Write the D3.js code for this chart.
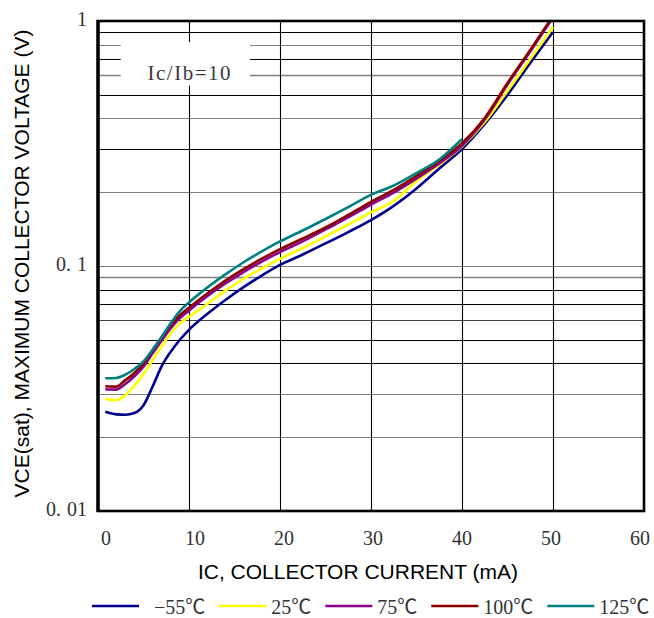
<!DOCTYPE html>
<html>
<head>
<meta charset="utf-8">
<script src="https://cdn.jsdelivr.net/npm/d3@7"></script>
<style>
  html, body { margin: 0; padding: 0; background: #fff; }
  svg { display: block; }
</style>
</head>
<body>
<svg id="chart" width="654" height="618"></svg>
<script>
// Collector current (mA) at which each curve is sampled
const current = [0.8, 2, 3, 4, 5, 6, 7, 8, 9, 10, 12, 14, 16, 18, 20, 22.5, 25, 27.5, 30, 32.5, 35, 37.5, 40, 42.5, 45, 47.5, 50];

// VCE(sat) in volts, one array per ambient temperature
const vceMinus55 = [0.0254, 0.0248, 0.0247, 0.0251, 0.0270, 0.0322, 0.0390, 0.0447, 0.0500, 0.0549, 0.0637, 0.0727, 0.0820, 0.0914, 0.1010, 0.1114, 0.1236, 0.1376, 0.1540, 0.1760, 0.2072, 0.2500, 0.3003, 0.380, 0.499, 0.674, 0.902];
const vce25 = [0.0287, 0.0283, 0.0297, 0.0325, 0.0362, 0.0413, 0.0470, 0.0530, 0.0583, 0.0620, 0.0700, 0.0793, 0.0887, 0.0978, 0.1070, 0.1184, 0.1320, 0.1477, 0.1656, 0.1843, 0.2223, 0.2597, 0.3074, 0.387, 0.518, 0.700, 0.945];
const vce75 = [0.0314, 0.0313, 0.0330, 0.0355, 0.0388, 0.0440, 0.0497, 0.0558, 0.0613, 0.0658, 0.0752, 0.0848, 0.0945, 0.1043, 0.1140, 0.1260, 0.1410, 0.1578, 0.1782, 0.1995, 0.2276, 0.2621, 0.3094, 0.396, 0.551, 0.751, 1.033];
const vce100 = [0.0323, 0.0322, 0.0342, 0.0366, 0.0400, 0.0454, 0.0512, 0.0573, 0.0630, 0.0676, 0.0772, 0.0872, 0.0971, 0.1071, 0.1172, 0.1295, 0.1436, 0.1615, 0.1825, 0.2043, 0.2331, 0.2683, 0.3168, 0.402, 0.558, 0.762, 1.048];
const vce125 = [0.0348, 0.0349, 0.0360, 0.0380, 0.0408, 0.0455, 0.0514, 0.0585, 0.0655, 0.0710, 0.0816, 0.0924, 0.1036, 0.1147, 0.1260, 0.1396, 0.1555, 0.1740, 0.1951, 0.2131, 0.2396, 0.2721, 0.3300];

const seriesNames = ["−55℃", "25℃", "75℃", "100℃", "125℃"];
const seriesValues = [vceMinus55, vce25, vce75, vce100, vce125];

// Axis ticks and labels
const xTicks = [0, 10, 20, 30, 40, 50, 60];
const yTicks = [0.01, 0.1, 1];
const yTickLabels = ["0.01", "0.1", "1"];
const yMinorGrid = [0.02, 0.03, 0.04, 0.05, 0.06, 0.07, 0.08, 0.09, 0.1, 0.2, 0.3, 0.4, 0.5, 0.6, 0.7, 0.8, 0.9];

const xTitle = "IC, COLLECTOR CURRENT (mA)";
const yTitle = "VCE(sat), MAXIMUM COLLECTOR VOLTAGE (V)";
const noteText = "Ic/Ib=10";

// ---- layout & styles ----
const colors = ["#00008b", "#ffff00", "#8b008b", "#8b0000", "#008080"];
const plot = { left: 98, top: 21, right: 644, bottom: 511 };
const serif = "'Liberation Serif', 'Noto Sans CJK SC', serif";
const sans = "'Liberation Sans', Arial, sans-serif";
const grayGrid = new Set([0.8, 0.6, 0.4, 0.2, 0.1, 0.09, 0.03, 0.02]);

const svg = d3.select("#chart");

const x = d3.scaleLinear().domain([0, 60]).range([plot.left, plot.right]);
const y = d3.scaleLog().domain([0.01, 1]).range([plot.bottom, plot.top]);
// tick labels sit on a slightly narrower span than the grid
const xLabel = d3.scaleLinear().domain([0, 60]).range([106, 640]);

// horizontal grid
svg.append("g").selectAll("line").data(yMinorGrid).join("line")
  .attr("x1", plot.left).attr("x2", plot.right)
  .attr("y1", d => Math.round(y(d)) + 0.5).attr("y2", d => Math.round(y(d)) + 0.5)
  .attr("stroke", d => d === 0.06 ? "#444" : (grayGrid.has(d) ? "#808080" : "#000"))
  .attr("stroke-width", d => (d === 0.09 || d === 0.6) ? 1.6 : 1.1);

// vertical grid
svg.append("g").selectAll("line").data(xTicks.slice(1, -1)).join("line")
  .attr("x1", d => Math.round(x(d)) + 0.5).attr("x2", d => Math.round(x(d)) + 0.5)
  .attr("y1", plot.top).attr("y2", plot.bottom)
  .attr("stroke", "#000").attr("stroke-width", 1.1);

// note box covering the grid
const noteG = svg.append("g");
noteG.append("rect")
  .attr("x", x(2.5)).attr("y", y(0.82))
  .attr("width", x(16.7) - x(2.5)).attr("height", y(0.545) - y(0.82))
  .attr("fill", "#fff");
noteG.append("text")
  .attr("x", x(10)).attr("y", 80)
  .attr("text-anchor", "middle")
  .attr("font-family", serif).attr("font-size", 21)
  .attr("fill", "#3a3a3a")
  .attr("textLength", 83).attr("lengthAdjust", "spacing")
  .text(noteText);

// curves
svg.append("clipPath").attr("id", "plotClip")
  .append("rect")
  .attr("x", plot.left).attr("y", plot.top)
  .attr("width", plot.right - plot.left).attr("height", plot.bottom - plot.top);

const line = d3.line()
  .x(d => x(d[0]))
  .y(d => y(d[1]))
  .curve(d3.curveMonotoneX);

svg.append("g").attr("clip-path", "url(#plotClip)")
  .selectAll("path").data(seriesValues).join("path")
  .attr("d", vals => line(vals.map((v, i) => [current[i], v])))
  .attr("fill", "none")
  .attr("stroke", (d, i) => colors[i])
  .attr("stroke-width", 2.6)
  .attr("stroke-linejoin", "round");

// plot frame
svg.append("rect")
  .attr("x", plot.left).attr("y", plot.top)
  .attr("width", plot.right - plot.left).attr("height", plot.bottom - plot.top)
  .attr("fill", "none").attr("stroke", "#000").attr("stroke-width", 2.6);
svg.append("line")
  .attr("x1", plot.left).attr("x2", plot.left)
  .attr("y1", plot.top - 1).attr("y2", plot.bottom + 1)
  .attr("stroke", "#000").attr("stroke-width", 3.4);

// y tick labels
const yLab = svg.append("g").selectAll("text").data(yTicks).join("text")
  .attr("x", 87).attr("y", d => y(d) + 5)
  .attr("text-anchor", "end")
  .attr("font-family", serif).attr("font-size", 20)
  .attr("fill", "#333");
yLab.each(function (d, i) {
  const s = yTickLabels[i];
  const t = d3.select(this);
  const dot = s.indexOf(".");
  if (dot < 0) { t.text(s); return; }
  t.append("tspan").text(s.slice(0, dot + 1));
  t.append("tspan").attr("dx", 6).text(s.slice(dot + 1));
});

// x tick labels
svg.append("g").selectAll("text").data(xTicks).join("text")
  .attr("x", d => xLabel(d)).attr("y", 545)
  .attr("text-anchor", "middle")
  .attr("font-family", serif).attr("font-size", 20)
  .attr("fill", "#333")
  .text(d => d);

// axis titles
svg.append("text")
  .attr("x", 358).attr("y", 579)
  .attr("text-anchor", "middle")
  .attr("font-family", sans).attr("font-size", 21)
  .attr("fill", "#000")
  .text(xTitle);

svg.append("text")
  .attr("transform", "translate(29,263.5) rotate(-90)")
  .attr("text-anchor", "middle")
  .attr("font-family", sans).attr("font-size", 21)
  .attr("fill", "#000")
  .text(yTitle);

// legend
const legend = svg.append("g");
let lx = 92;
const legendY = 606;
seriesNames.forEach((name, i) => {
  legend.append("line")
    .attr("x1", lx).attr("x2", lx + 47)
    .attr("y1", legendY).attr("y2", legendY)
    .attr("stroke", colors[i]).attr("stroke-width", 2.6);
  const gap = name.startsWith("−") ? 15 : 5;
  const t = legend.append("text")
    .attr("x", lx + 47 + gap).attr("y", 614)
    .attr("font-family", serif).attr("font-size", 20)
    .attr("fill", "#333")
    .text(name);
  lx = lx + 47 + gap + t.node().getComputedTextLength() + 14;
});
</script>
</body>
</html>
